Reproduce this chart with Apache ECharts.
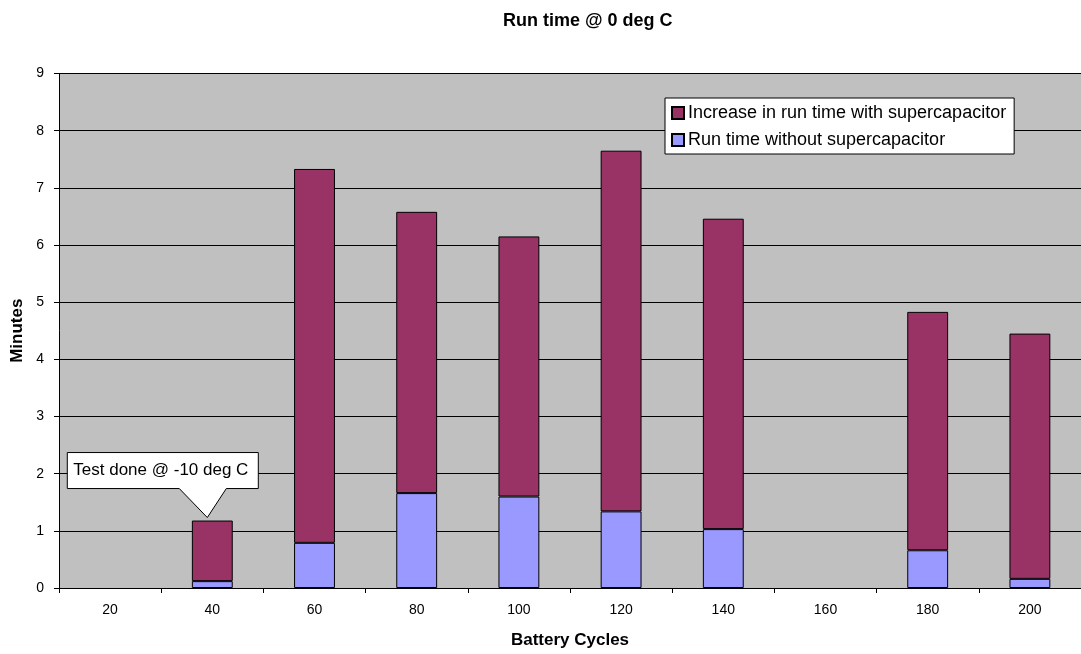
<!DOCTYPE html>
<html>
<head>
<meta charset="utf-8">
<script src="https://cdn.jsdelivr.net/npm/echarts@6/dist/echarts.min.js"></script>
<style>
  html, body { margin: 0; padding: 0; background: #fff; }
  #chart { width: 1081px; height: 654px; }
</style>
</head>
<body>
<div id="chart"></div>
<script>
var cycles = ['20', '40', '60', '80', '100', '120', '140', '160', '180', '200'];
// bottom segment
var withoutCap = [null, 0.12, 0.79, 1.66, 1.60, 1.34, 1.03, null, 0.66, 0.16];
// top segment (total minus bottom)
var increase = [null, 1.06, 6.54, 4.92, 4.55, 6.31, 5.43, null, 4.17, 4.29];
var yTicks = [0, 9, 1];
var noteText = 'Test done @ -10 deg C';
var noteCycle = '40';

var font = 'Arial, "Liberation Sans", sans-serif';
var chart = echarts.init(document.getElementById('chart'));

var option = {
    animation: false,
    backgroundColor: '#fff',
    title: {
        text: 'Run time @ 0 deg C',
        left: 498,
        top: 7,
        textStyle: { fontFamily: font, fontSize: 18, fontWeight: 'bold', color: '#000' }
    },
    legend: {
        orient: 'vertical',
        left: 665,
        top: 98,
        padding: [6, 8, 5, 6],
        itemGap: 9,
        itemWidth: 12,
        itemHeight: 12,
        icon: 'rect',
        backgroundColor: '#fff',
        borderColor: '#000',
        borderWidth: 1,
        borderRadius: 0,
        data: ['Increase in run time with supercapacitor', 'Run time without supercapacitor'],
        textStyle: { fontFamily: font, fontSize: 18, color: '#000', padding: [0, 0, 0, -1] }
    },
    grid: {
        left: 59,
        right: -7,
        top: 73.5,
        bottom: 65.5,
        show: true,
        backgroundColor: '#c0c0c0',
        borderWidth: 0
    },
    xAxis: {
        type: 'category',
        data: cycles,
        name: 'Battery Cycles',
        nameLocation: 'middle',
        nameGap: 44,
        nameTextStyle: { fontFamily: font, fontSize: 17, fontWeight: 'bold', color: '#000' },
        axisLine: { lineStyle: { color: '#000', width: 1 } },
        axisTick: { show: true, length: 5, lineStyle: { color: '#000' } },
        axisLabel: { fontFamily: font, fontSize: 14, color: '#000', margin: 15 },
        splitLine: { show: false }
    },
    yAxis: {
        type: 'value',
        min: yTicks[0],
        max: yTicks[1],
        interval: yTicks[2],
        name: 'Minutes',
        nameLocation: 'middle',
        nameRotate: 90,
        nameGap: 33,
        nameTextStyle: { fontFamily: font, fontSize: 17, fontWeight: 'bold', color: '#000' },
        axisLine: { show: true, lineStyle: { color: '#000', width: 1 } },
        axisTick: { show: true, length: 5, lineStyle: { color: '#000' } },
        axisLabel: { fontFamily: font, fontSize: 14, color: '#000', margin: 15 },
        splitLine: { show: true, lineStyle: { color: '#000', width: 1 } }
    },
    series: [
        {
            name: 'Run time without supercapacitor',
            type: 'bar',
            stack: 'run',
            barWidth: '40%',
            data: withoutCap,
            itemStyle: { color: '#9999ff', borderColor: '#000', borderWidth: 1 }
        },
        {
            name: 'Increase in run time with supercapacitor',
            type: 'bar',
            stack: 'run',
            barWidth: '40%',
            data: increase,
            itemStyle: { color: '#993366', borderColor: '#000', borderWidth: 1 }
        }
    ]
};
chart.setOption(option);

// callout above the 40-cycle bar, anchored at the bar's top
var idx = cycles.indexOf(noteCycle);
var total = withoutCap[idx] + increase[idx];
var p = chart.convertToPixel({ gridIndex: 0 }, [noteCycle, total]);
var ax = p[0], ay = p[1];
chart.setOption({
    graphic: [{
        type: 'group',
        x: ax,
        y: ay,
        children: [
            {
                type: 'polygon',
                shape: {
                    points: [[-145, -68], [46, -68], [46, -32], [14, -32], [-5, -3],
                             [-33, -32], [-145, -32]]
                },
                style: { fill: '#fff', stroke: '#000', lineWidth: 1 }
            },
            {
                type: 'text',
                x: -139,
                y: -50,
                style: {
                    text: noteText,
                    font: '17px ' + font,
                    fill: '#000',
                    textVerticalAlign: 'middle'
                }
            }
        ]
    }]
});
</script>
</body>
</html>
